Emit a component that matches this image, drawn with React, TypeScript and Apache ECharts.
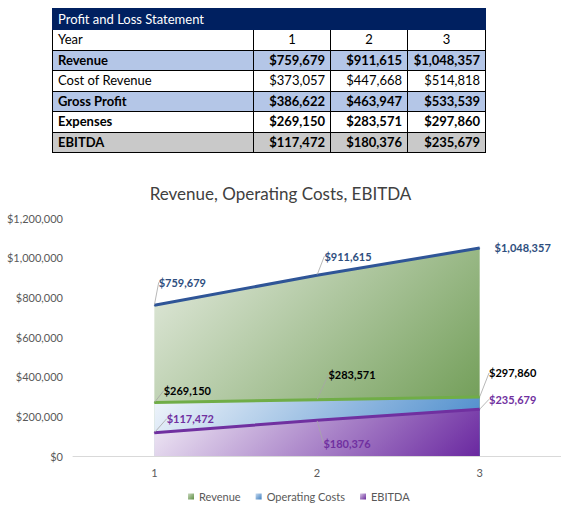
import * as echarts from 'echarts';
import React, { useEffect, useRef } from 'react';

const years = ['1', '2', '3'];
const revenue = [759679, 911615, 1048357];
const costOfRevenue = [373057, 447668, 514818];
const grossProfit = [386622, 463947, 533539];
const expenses = [269150, 283571, 297860];
const ebitda = [117472, 180376, 235679];
const yTicks = [0, 200000, 400000, 600000, 800000, 1000000, 1200000];

// label offsets (dx, dy) relative to the default 'top' label position
const revLabelShift = [[28, -12], [31, -8], [43, 10]];
const opLabelShift = [[33, -1], [35, -14], [33, -13]];
const ebLabelShift = [[36, -3], [30, 34], [33, 1]];
// which labels get a leader line
const revLeader = [true, true, false];

const money = (v: number) => '$' + v.toLocaleString('en-US');
const FONT = 'Lato, "Noto Sans", sans-serif';

const grad = (from: string, to: string, x2 = 1, y2 = 1) =>
  new echarts.graphic.LinearGradient(0, 0, x2, y2, [
    { offset: 0, color: from },
    { offset: 1, color: to },
  ]);

const rows = [
  { label: 'Revenue', values: revenue, bg: '#B4C6E7', bold: true },
  { label: 'Cost of Revenue', values: costOfRevenue, bg: '#FFFFFF', bold: false },
  { label: 'Gross Profit', values: grossProfit, bg: '#B4C6E7', bold: true },
  { label: 'Expenses', values: expenses, bg: '#FFFFFF', bold: true },
  { label: 'EBITDA', values: ebitda, bg: '#C9C9C9', bold: true },
];

const cell: React.CSSProperties = {
  border: '1px solid #000',
  height: 19.5,
  padding: '0 5px',
  fontSize: 13,
  lineHeight: '19px',
  color: '#000',
  whiteSpace: 'nowrap',
};

const PnLTable: React.FC = () => (
  <table
    style={{
      position: 'absolute',
      left: 52,
      top: 8,
      width: 433,
      borderCollapse: 'collapse',
      tableLayout: 'fixed',
      fontFamily: FONT,
    }}
  >
    <colgroup>
      <col style={{ width: 201 }} />
      <col style={{ width: 77 }} />
      <col style={{ width: 77 }} />
      <col style={{ width: 78 }} />
    </colgroup>
    <tbody>
      <tr>
        <td
          colSpan={4}
          style={{ ...cell, background: '#002060', color: '#fff', border: '1px solid #002060', height: 20 }}
        >
          Profit and Loss Statement
        </td>
      </tr>
      <tr>
        <td style={cell}>Year</td>
        {years.map((y) => (
          <td key={y} style={{ ...cell, textAlign: 'center' }}>
            {y}
          </td>
        ))}
      </tr>
      {rows.map((r) => (
        <tr key={r.label} style={{ background: r.bg }}>
          <td style={{ ...cell, fontWeight: r.bold ? 700 : 400 }}>{r.label}</td>
          {r.values.map((v, i) => (
            <td key={i} style={{ ...cell, textAlign: 'right', fontWeight: r.bold ? 700 : 400 }}>
              {money(v)}
            </td>
          ))}
        </tr>
      ))}
    </tbody>
  </table>
);

const App: React.FC = () => {
  const chartRef = useRef<HTMLDivElement>(null);

  useEffect(() => {
    if (!chartRef.current) return;
    const chart = echarts.init(chartRef.current, undefined, { renderer: 'svg' });

    const labelCfg = (color: string) => ({
      show: true,
      position: 'top' as const,
      formatter: (p: any) => money(p.value),
      color,
      fontFamily: FONT,
      fontSize: 11,
      fontWeight: 'bold' as const,
    });

    const labelLine = {
      show: true,
      lineStyle: { color: '#A6A6A6', width: 0.8 },
    };

    const shiftFn = (shift: number[][]) => (p: any) => ({
      dx: shift[p.dataIndex][0],
      dy: shift[p.dataIndex][1],
    });

    chart.setOption({
      animation: false,
      title: {
        text: 'Revenue, Operating Costs, EBITDA',
        left: 'center',
        top: 20,
        textStyle: { fontFamily: FONT, fontSize: 17, fontWeight: 'normal', color: '#404040' },
      },
      legend: {
        bottom: 13,
        left: 183,
        itemWidth: 6,
        itemHeight: 6,
        itemGap: 15,
        textStyle: { fontFamily: FONT, fontSize: 11, color: '#595959' },
        data: [
          { name: 'Revenue', icon: 'rect', itemStyle: { color: grad('#C9D8BF', '#5E8F42'), borderWidth: 0 } },
          { name: 'Operating Costs', icon: 'rect', itemStyle: { color: grad('#C6D9EE', '#3F7FC0'), borderWidth: 0 } },
          { name: 'EBITDA', icon: 'rect', itemStyle: { color: grad('#D9C8E6', '#6A2A9C'), borderWidth: 0 } },
        ],
      },
      grid: { left: 73, width: 489, top: 58, bottom: 64 },
      xAxis: {
        type: 'category',
        data: years,
        boundaryGap: true,
        axisLine: { lineStyle: { color: '#D9D9D9', width: 1 } },
        axisTick: { show: false },
        axisLabel: { fontFamily: FONT, fontSize: 11, color: '#595959', margin: 11 },
      },
      yAxis: {
        type: 'value',
        min: yTicks[0],
        max: yTicks[yTicks.length - 1],
        interval: yTicks[1] - yTicks[0],
        splitLine: { show: false },
        axisLine: { show: false },
        axisTick: { show: false },
        axisLabel: {
          fontFamily: FONT,
          fontSize: 11,
          color: '#595959',
          margin: 10,
          formatter: (v: number) => money(v),
        },
      },
      series: [
        {
          name: 'Revenue',
          type: 'line',
          data: revenue.map((v, i) => (revLeader[i] ? v : { value: v, labelLine: { show: false } })),
          symbol: 'circle',
          symbolSize: 1,
          itemStyle: { color: '#2F5597' },
          lineStyle: { color: '#2F5597', width: 3 },
          areaStyle: { color: grad('#E6ECE1', '#66964A'), opacity: 1 },
          label: labelCfg('#2E4E7E'),
          labelLine,
          labelLayout: shiftFn(revLabelShift),
        },
        {
          name: 'Operating Costs',
          type: 'line',
          data: expenses,
          symbol: 'circle',
          symbolSize: 1,
          itemStyle: { color: '#70AD47' },
          lineStyle: { color: '#70AD47', width: 3 },
          areaStyle: { color: grad('#F0F5FB', '#3F84C8'), opacity: 1 },
          label: labelCfg('#000000'),
          labelLine,
          labelLayout: shiftFn(opLabelShift),
        },
        {
          name: 'EBITDA',
          type: 'line',
          data: ebitda,
          symbol: 'circle',
          symbolSize: 1,
          itemStyle: { color: '#7030A0' },
          lineStyle: { color: '#7030A0', width: 3 },
          areaStyle: { color: grad('#F3EEF7', '#6A28A0'), opacity: 1 },
          label: labelCfg('#7030A0'),
          labelLine,
          labelLayout: shiftFn(ebLabelShift),
        },
      ],
    } as any);

    // 45° gradients in pixel space, like Excel: the SVG gradient lives in the
    // area's bounding box, so tilt the vector by the box's aspect ratio
    const fills: [number[], string, string][] = [
      [revenue, '#E6ECE1', '#66964A'],
      [expenses, '#F0F5FB', '#3F84C8'],
      [ebitda, '#F3EEF7', '#6A28A0'],
    ];
    const last = years.length - 1;
    chart.setOption({
      series: fills.map(([vals, from, to]) => {
        const tl = chart.convertToPixel({ gridIndex: 0 }, [0, Math.max(...vals)]) as number[];
        const br = chart.convertToPixel({ gridIndex: 0 }, [last, 0]) as number[];
        const w = br[0] - tl[0];
        const h = br[1] - tl[1];
        const k = (w + h) / (w * w + h * h);
        return { areaStyle: { color: grad(from, to, w * k, h * k) } };
      }),
    });

    return () => {
      chart.dispose();
    };
  }, []);

  return (
    <div style={{ position: 'absolute', left: 0, top: 0, width: 561, height: 520, background: '#fff' }}>
      <PnLTable />
      <div ref={chartRef} style={{ position: 'absolute', left: 0, top: 160, width: 561, height: 360 }} />
    </div>
  );
};

export default App;
